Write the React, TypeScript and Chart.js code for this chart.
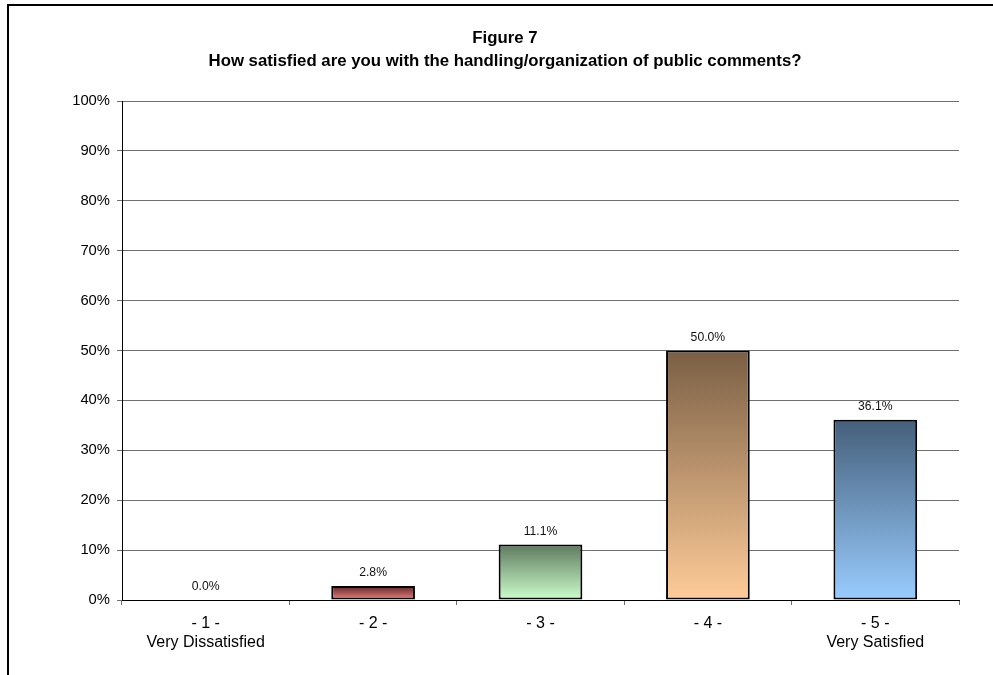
import React, { useEffect, useRef } from "react";
import { Chart, registerables } from "chart.js";

Chart.register(...registerables);

// Survey responses, Figure 7
const categories: (string | string[])[] = [
  ["- 1 -", "Very Dissatisfied"],
  "- 2 -",
  "- 3 -",
  "- 4 -",
  ["- 5 -", "Very Satisfied"],
];
const shares = [0.0, 2.8, 11.1, 50.0, 36.1];
const valueLabels = ["0.0%", "2.8%", "11.1%", "50.0%", "36.1%"];
const topColors = ["#6a2c2c", "#5e2626", "#5f7a5f", "#7a5f45", "#455f7a"];
const bottomColors = ["#f08080", "#f08282", "#ccffcc", "#ffcc99", "#99ccff"];
const titleLines = [
  "Figure 7",
  "How satisfied are you with the handling/organization of public comments?",
];
const yMax = 100;
const yStep = 10;

const FONT = "'Liberation Sans', Arial, sans-serif";
const GRID = "#707070";

// White page with the black frame line on the left and top edges
const framePlugin = {
  id: "frame",
  beforeDraw(chart: Chart) {
    const { ctx, width, height } = chart;
    ctx.save();
    ctx.fillStyle = "#ffffff";
    ctx.fillRect(0, 0, width, height);
    ctx.strokeStyle = "#000000";
    ctx.lineWidth = 2;
    ctx.beginPath();
    ctx.moveTo(8, height + 2);
    ctx.lineTo(8, 5);
    ctx.lineTo(width + 2, 5);
    ctx.stroke();
    ctx.restore();
  },
};

// Percent value printed above each bar
const valueLabelPlugin = {
  id: "valueLabels",
  afterDatasetsDraw(chart: Chart) {
    const meta = chart.getDatasetMeta(0);
    const { ctx } = chart;
    ctx.save();
    ctx.fillStyle = "#111111";
    ctx.font = `12.2px ${FONT}`;
    ctx.textAlign = "center";
    ctx.textBaseline = "middle";
    meta.data.forEach((bar: any, i: number) => {
      ctx.fillText(valueLabels[i], bar.x, bar.y - 13);
    });
    ctx.restore();
  },
};

export default function App() {
  const canvasRef = useRef<HTMLCanvasElement | null>(null);

  useEffect(() => {
    const canvas = canvasRef.current;
    if (!canvas) return;
    const chart = new Chart(canvas, {
      type: "bar",
      data: {
        labels: categories,
        datasets: [
          {
            data: shares,
            backgroundColor: (ctx: any) => {
              const i = ctx.dataIndex ?? 0;
              const c = ctx.chart;
              const y = c.scales?.y;
              if (!y || ctx.type !== "data") return bottomColors[i];
              const top = y.getPixelForValue(shares[i]);
              const base = y.getPixelForValue(0);
              if (!isFinite(top) || !isFinite(base) || base - top < 1) return bottomColors[i];
              const g = c.ctx.createLinearGradient(0, top, 0, base);
              g.addColorStop(0, topColors[i]);
              g.addColorStop(1, bottomColors[i]);
              return g;
            },
            borderColor: "#000000",
            borderWidth: 2,
            borderSkipped: false,
            barPercentage: 0.5,
            categoryPercentage: 1,
          },
        ],
      },
      options: {
        responsive: false,
        animation: false,
        layout: { padding: { left: 51, right: 34, top: 5, bottom: 0 } },
        plugins: {
          legend: { display: false },
          tooltip: { enabled: false },
          title: {
            display: true,
            text: titleLines,
            color: "#000000",
            font: { family: FONT, size: 16.8, weight: "bold", lineHeight: 1.37 },
            padding: { top: 22, bottom: 28 },
          },
        },
        scales: {
          x: {
            offset: true,
            grid: {
              offset: true,
              drawOnChartArea: false,
              drawTicks: true,
              tickLength: 5,
              tickColor: GRID,
            },
            border: { display: true, color: "#000000", width: 1 },
            ticks: {
              color: "#000000",
              font: { family: FONT, size: 16, lineHeight: 1.19 },
              padding: 9,
              maxRotation: 0,
              autoSkip: false,
            },
            afterFit(scale: any) {
              scale.height = 75;
            },
          },
          y: {
            min: 0,
            max: yMax,
            ticks: {
              stepSize: yStep,
              color: "#000000",
              font: { family: FONT, size: 14.8 },
              padding: 7,
              callback: (v: any) => `${v}%`,
            },
            grid: {
              color: GRID,
              lineWidth: 1,
              tickLength: 5,
              tickColor: GRID,
            },
            border: { display: true, color: "#000000", width: 1 },
            afterFit(scale: any) {
              scale.width = 71;
            },
          },
        },
      },
      plugins: [framePlugin, valueLabelPlugin],
    });
    return () => chart.destroy();
  }, []);

  return (
    <div style={{ position: "fixed", left: 0, top: 0, width: 993, height: 675 }}>
      <canvas ref={canvasRef} width={993} height={675} style={{ display: "block" }} />
    </div>
  );
}
